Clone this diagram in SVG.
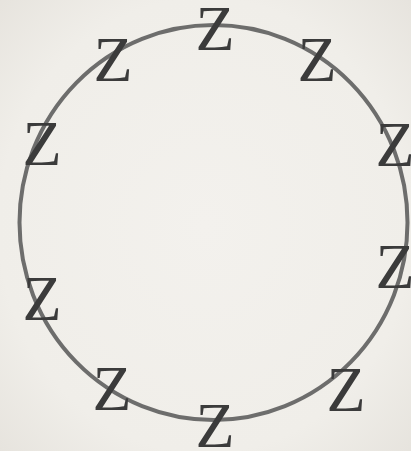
<svg xmlns="http://www.w3.org/2000/svg" width="411" height="451" viewBox="0 0 411 451">
  <defs>
    <radialGradient id="bg" cx="50%" cy="50%" r="72%">
      <stop offset="0" stop-color="#f3f1ed"/>
      <stop offset="0.7" stop-color="#f0eee9"/>
      <stop offset="1" stop-color="#e6e3dd"/>
    </radialGradient>
    <style>
      .z { font-family: "Liberation Serif", "DejaVu Serif", serif; font-size: 64px; fill: #3b3b3b; text-anchor: middle; }
      .ring { fill: none; stroke: #5e5e5e; stroke-width: 4; stroke-opacity: 0.9; }
    </style>
  </defs>
  <rect x="0" y="0" width="411" height="451" fill="url(#bg)"/>
  <g id="connectors">
    <ellipse class="ring" cx="213.5" cy="222.5" rx="194" ry="197.5"/>
  </g>
  <g id="z1"><text class="z" x="215" y="50">Z</text></g>
  <g id="z2"><text class="z" x="113" y="81">Z</text></g>
  <g id="z3"><text class="z" x="317" y="81">Z</text></g>
  <g id="z4"><text class="z" x="42" y="165">Z</text></g>
  <g id="z5"><text class="z" x="395" y="166">Z</text></g>
  <g id="z6"><text class="z" x="42" y="320">Z</text></g>
  <g id="z7"><text class="z" x="395" y="288">Z</text></g>
  <g id="z8"><text class="z" x="112" y="410">Z</text></g>
  <g id="z9"><text class="z" x="346" y="411">Z</text></g>
  <g id="z10"><text class="z" x="215" y="447">Z</text></g>
</svg>
